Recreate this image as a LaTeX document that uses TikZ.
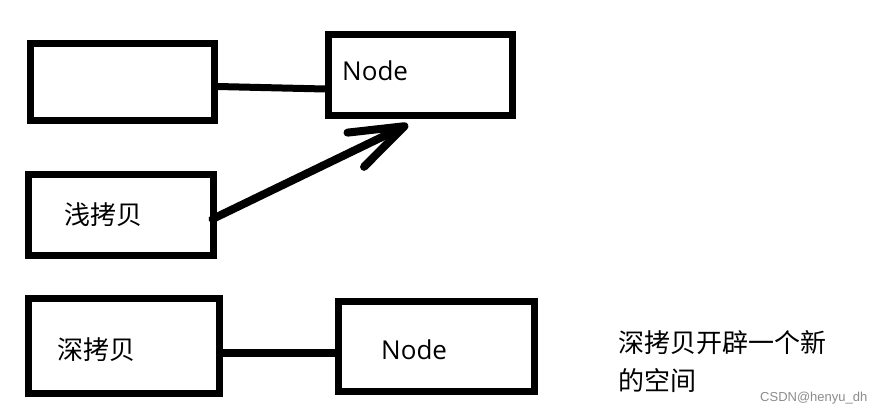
\documentclass[tikz,border=0pt]{standalone}
\usepackage{fontspec}
\setmainfont{Open Sans}
\newfontfamily\cjk{Noto Sans CJK SC}
\newfontfamily\wm{Liberation Sans}
\usetikzlibrary{arrows.meta}
\begin{document}
\begin{tikzpicture}[x=1pt,y=-1pt,
  box/.style={draw=black,line width=7pt,rectangle,inner sep=0pt},
  lbl/.style={anchor=west,inner sep=0pt,font=\cjk\fontsize{26}{30}\selectfont},
  nodetxt/.style={anchor=west,inner sep=0pt,font=\fontsize{26}{30}\selectfont},
  conn/.style={line width=7pt,line cap=round}]
\useasboundingbox[fill=white] (0,0) rectangle (887,414);
% boxes
\node[box,minimum width=183.5pt,minimum height=76.5pt] (A) at (122.25,82.25) {};
\node[box,minimum width=184pt,minimum height=81pt] (B) at (420.5,75.5) {};
\node[box,minimum width=185pt,minimum height=81pt] (C) at (121,215.5) {};
\node[box,minimum width=190.5pt,minimum height=94.5pt] (D) at (123.75,345.75) {};
\node[box,minimum width=195.5pt,minimum height=89pt] (E) at (436.25,346.5) {};
% texts
\node[nodetxt] (tB) at (342,71) {Node};
\node[nodetxt] (tE) at (381,350) {Node};
\node[lbl] (tC) at (64,215) {浅拷贝};
\node[lbl] (tD) at (57,350) {深拷贝};
\node[lbl] (t1) at (618,343) {深拷贝开辟一个新};
\node[lbl] (t2) at (618,381) {的空间};
\node[anchor=west,inner sep=0pt,text=black!45,font=\wm\fontsize{13}{15}\selectfont] (wm) at (760,398) {CSDN@henyu\_dh};
% connectors
\draw[conn,line cap=butt] ([yshift=-4.25pt]A.east) -- ([yshift=-13.5pt]B.west);
\draw[conn,line width=8pt,-{Straight Barb[length=54pt,width=38pt,round]}]
  ([xshift=-4.5pt,yshift=-3.5pt]C.east) -- ([xshift=-12.5pt,yshift=-5pt]B.south);
\draw[conn,line cap=butt] ([yshift=-7.25pt]D.east) -- ([yshift=-6.5pt]E.west);
\end{tikzpicture}
\end{document}
